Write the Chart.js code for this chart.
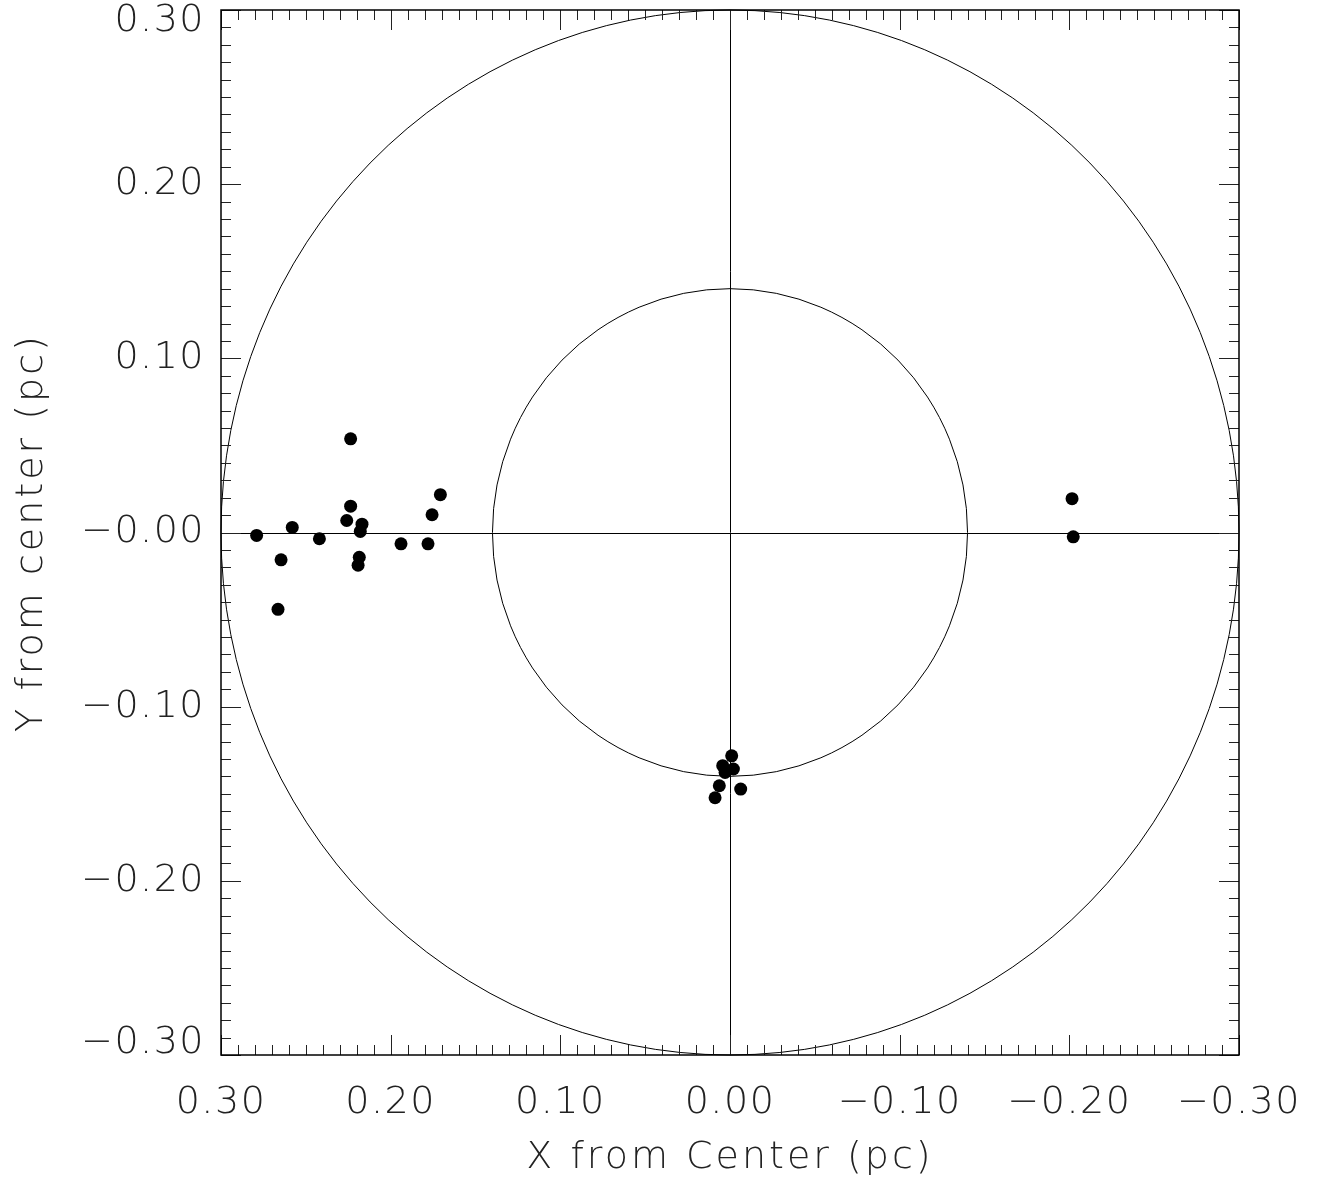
<!DOCTYPE html>
<html>
<head>
<meta charset="utf-8">
<script src="https://cdn.jsdelivr.net/npm/chart.js@4/dist/chart.umd.min.js"></script>
<style>
  html, body { margin: 0; padding: 0; background: #fff; }
  #wrap { width: 1318px; height: 1185px; }
</style>
</head>
<body>
<div id="wrap"><canvas id="c"></canvas></div>
<script>
// amas de gauche
const leftX = [0.279, 0.2646, 0.2664, 0.258, 0.242, 0.2236, 0.2236, 0.2259, 0.2169, 0.2179, 0.2185, 0.2192, 0.1939, 0.178, 0.1756, 0.1707];
const leftY = [-0.0017, -0.0157, -0.0441, 0.0029, -0.0036, 0.0538, 0.0151, 0.0069, 0.0048, 0.0006, -0.0142, -0.0188, -0.0065, -0.0065, 0.0102, 0.0217];
// amas du bas
const bottomX = [-0.001, 0.0043, -0.002, 0.0029, 0.0063, -0.0063, 0.0088];
const bottomY = [-0.1282, -0.1339, -0.1358, -0.1378, -0.1454, -0.1473, -0.1523];
// paire de droite
const rightX = [-0.2016, -0.2023];
const rightY = [0.0194, -0.0025];

const ringRadii = [0.14, 0.30];

const xTickValues = [0.3, 0.2, 0.1, 0.0, -0.1, -0.2, -0.3];
const xTickLabels = ["0.30", "0.20", "0.10", "0.00", "\u22120.10", "\u22120.20", "\u22120.30"];
const yTickValues = [-0.3, -0.2, -0.1, 0.0, 0.1, 0.2, 0.3];
const yTickLabels = ["\u22120.30", "\u22120.20", "\u22120.10", "\u22120.00", "0.10", "0.20", "0.30"];

const pts = (xs, ys) => xs.map((x, i) => ({ x: x, y: ys[i] }));

const font = { family: "'DejaVu Sans', sans-serif", size: 38, weight: 200 };
const textColor = "#222";

function labelFor(values, labels, v) {
  const i = values.findIndex(t => Math.abs(t - v) < 1e-6);
  return i >= 0 ? labels[i] : "";
}

// espacement des lettres (police Hershey plus large) + étiquettes extrêmes rentrées
const lettrage = {
  id: "lettrage",
  beforeDraw(chart) {
    for (const s of Object.values(chart.scales)) {
      if (!s._lettrage) {
        s._lettrage = true;
        const dt = s.drawTitle, dl = s.drawLabels;
        s.drawTitle = function () {
          const c = this.ctx; c.save(); c.letterSpacing = "3px"; dt.apply(this, arguments); c.restore();
        };
        s.drawLabels = function () {
          const c = this.ctx; c.save(); c.letterSpacing = "1.5px"; dl.apply(this, arguments); c.restore();
        };
      }
    }
    const y = chart.scales.y;
    for (const item of y.getLabelItems()) {
      if (item.label === "0.30") item.options.translation[1] += 11;
      if (item.label === "\u22120.30") item.options.translation[1] -= 12;
    }
  }
};

// cadre, graduations internes, croix et cercles
const decor = {
  id: "decor",
  beforeDatasetsDraw(chart) {
    const { ctx, chartArea: a, scales: { x, y } } = chart;
    ctx.save();
    ctx.strokeStyle = "#000";
    ctx.lineWidth = 1;

    // croix
    const x0 = Math.round(x.getPixelForValue(0)) + 0.5;
    const y0 = Math.round(y.getPixelForValue(0)) + 0.5;
    ctx.beginPath();
    ctx.moveTo(x0, a.top); ctx.lineTo(x0, a.bottom);
    ctx.moveTo(a.left, y0); ctx.lineTo(a.right, y0);
    ctx.stroke();

    // cercles
    for (const r of ringRadii) {
      const rx = Math.abs(x.getPixelForValue(r) - x.getPixelForValue(0));
      const ry = Math.abs(y.getPixelForValue(r) - y.getPixelForValue(0));
      ctx.beginPath();
      ctx.ellipse(x.getPixelForValue(0), y.getPixelForValue(0), rx, ry, 0, 0, Math.PI * 2);
      ctx.stroke();
    }

    // graduations
    ctx.strokeStyle = "#222";
    ctx.beginPath();
    for (const t of x.ticks) {
      const major = Math.round(Math.abs(t.value) * 100) % 10 === 0;
      const len = major ? 20 : 10;
      const px = Math.round(x.getPixelForValue(t.value)) + 0.5;
      ctx.moveTo(px, a.bottom); ctx.lineTo(px, a.bottom - len);
      ctx.moveTo(px, a.top); ctx.lineTo(px, a.top + len);
    }
    for (const t of y.ticks) {
      const major = Math.round(Math.abs(t.value) * 100) % 10 === 0;
      const len = major ? 20 : 10;
      const py = Math.round(y.getPixelForValue(t.value)) + 0.5;
      ctx.moveTo(a.left, py); ctx.lineTo(a.left + len, py);
      ctx.moveTo(a.right, py); ctx.lineTo(a.right - len, py);
    }
    ctx.stroke();

    // cadre
    ctx.strokeStyle = "#000";
    ctx.lineWidth = 1.5;
    ctx.strokeRect(a.left, a.top, a.right - a.left, a.bottom - a.top);
    ctx.restore();
  }
};

new Chart(document.getElementById("c").getContext("2d"), {
  type: "scatter",
  data: {
    datasets: [
      { label: "gauche", data: pts(leftX, leftY) },
      { label: "bas", data: pts(bottomX, bottomY) },
      { label: "droite", data: pts(rightX, rightY) }
    ].map(d => Object.assign(d, {
      pointRadius: 6.5,
      pointHoverRadius: 6.5,
      pointBackgroundColor: "#000",
      pointBorderColor: "#000",
      pointBorderWidth: 0
    }))
  },
  options: {
    responsive: true,
    maintainAspectRatio: false,
    animation: false,
    layout: { padding: { top: 10, right: 79, left: 0, bottom: 0 } },
    plugins: {
      legend: { display: false },
      tooltip: { enabled: false }
    },
    scales: {
      x: {
        type: "linear",
        reverse: true,
        min: -0.3,
        max: 0.3,
        grid: { display: false },
        border: { display: false },
        ticks: {
          stepSize: 0.01,
          autoSkip: false,
          maxRotation: 0,
          padding: 17,
          color: textColor,
          font: font,
          callback: v => labelFor(xTickValues, xTickLabels, v)
        },
        title: {
          display: true,
          text: "X from Center (pc)",
          color: textColor,
          font: font,
          padding: { top: 0, bottom: 4 }
        },
        afterFit: s => { s.height = 130; s.paddingLeft = 0; s.paddingRight = 0; }
      },
      y: {
        type: "linear",
        min: -0.3,
        max: 0.3,
        grid: { display: false },
        border: { display: false },
        ticks: {
          stepSize: 0.01,
          autoSkip: false,
          padding: 8,
          color: textColor,
          font: font,
          callback: v => labelFor(yTickValues, yTickLabels, v)
        },
        title: {
          display: true,
          text: "Y from center (pc)",
          color: textColor,
          font: font,
          padding: { top: 9, bottom: 0 }
        },
        afterFit: s => { s.width = 221; s.paddingTop = 0; s.paddingBottom = 0; }
      }
    }
  },
  plugins: [lettrage, decor]
});
</script>
</body>
</html>
